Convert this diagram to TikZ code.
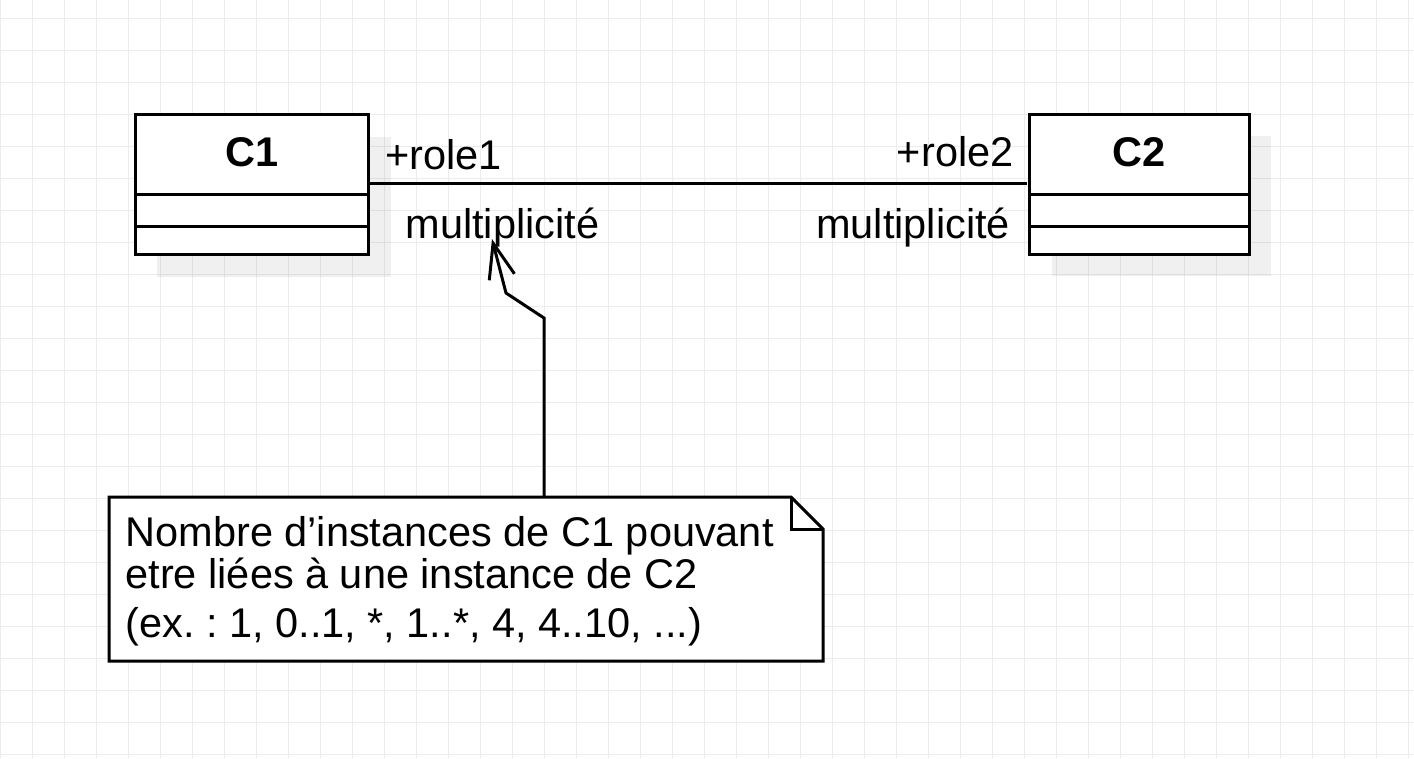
\documentclass[tikz,border=0pt]{standalone}
\usepackage{fontspec}
\setmainfont{Liberation Sans}
\frenchspacing
\usetikzlibrary{arrows.meta}
\definecolor{gridc}{RGB}{236,236,236}
\tikzset{
  gridline/.style={draw=gridc,line width=1pt},
  classbox/.style={draw=black,fill=white,line width=3pt,inner sep=0pt,outer sep=0pt},
  shadowbox/.style={fill=black,fill opacity=0.06,draw=none},
  txt/.style={inner sep=0pt,outer sep=0pt,font=\fontsize{41.5}{49}\selectfont},
  boldtxt/.style={txt,font=\fontsize{41.5}{49}\selectfont\bfseries},
  assoc/.style={line width=3pt},
  conn/.style={line width=3pt,line join=miter},
}
\begin{document}
\begin{tikzpicture}[x=1pt,y=-1pt]
\useasboundingbox (0,0) rectangle (1414,758);
\fill[white] (0,0) rectangle (1414,758);
% grid
\foreach \gx in {0,32,...,1408} \draw[gridline] (\gx,0) -- (\gx,758);
\foreach \gy in {18,50,...,754} \draw[gridline] (0,\gy) -- (1414,\gy);
% shadows
\fill[shadowbox] (157,137) rectangle (391,277);
\fill[shadowbox] (1052,136) rectangle (1271,276);
% class C1
\node[classbox,minimum width=233.3pt,minimum height=139.5pt] (c1) at (251.7,184.5) {};
\draw[line width=3pt] (c1.west |- 0,194) -- (c1.east |- 0,194);
\draw[line width=3pt] (c1.west |- 0,226) -- (c1.east |- 0,226);
\node[boldtxt,anchor=base] (c1name) at (251.7,166) {C1};
% class C2
\node[classbox,minimum width=220pt,minimum height=139.5pt] (c2) at (1139.5,184.25) {};
\draw[line width=3pt] (c2.west |- 0,194) -- (c2.east |- 0,194);
\draw[line width=3pt] (c2.west |- 0,226) -- (c2.east |- 0,226);
\node[boldtxt,anchor=base] (c2name) at (1139.5,166) {C2};
% association
\coordinate (aL) at (370,183.5);
\coordinate (aR) at (1027,183.5);
\draw[assoc] (aL) -- (aR);
\node[txt,anchor=base west] (r1) at (385.5,169) {+role1};
\node[txt,anchor=base east] (r2) at (1013.5,166) {+role2};
\node[txt,anchor=base west] (m1) at (405.5,238) {multiplicité};
\node[txt,anchor=base east] (m2) at (1010,238) {multiplicité};
% note
\node[inner sep=0pt,outer sep=0pt,minimum width=714pt,minimum height=164pt] (note) at (466,579) {};
\draw[line width=3pt,fill=white,line join=miter]
  (note.north west) -- ([xshift=-32pt]note.north east) -- ([yshift=-32pt]note.north east)
  -- (note.south east) -- (note.south west) -- cycle;
\draw[line width=3pt,line join=miter]
  ([xshift=-32pt]note.north east) -- ([xshift=-32pt,yshift=-32pt]note.north east) -- ([yshift=-32pt]note.north east);
\node[txt,anchor=base west] (n1) at (125.5,546) {Nombre d’instances de C1 pouvant};
\node[txt,anchor=base west] (n2) at (125.5,588) {etre liées à une instance de C2};
\node[txt,anchor=base west] (n3) at (125.5,637) {(ex. : 1, 0..1, *, 1..*, 4, 4..10, ...)};
% connector from note to multiplicity
\coordinate (k1) at (544,318);
\coordinate (k2) at (506,293);
\coordinate (tip) at (492,239);
\draw[conn,-{Straight Barb[length=35pt,width=26pt]}] (note.north -| k1) -- (k1) -- (k2) -- (tip);
\end{tikzpicture}
\end{document}
